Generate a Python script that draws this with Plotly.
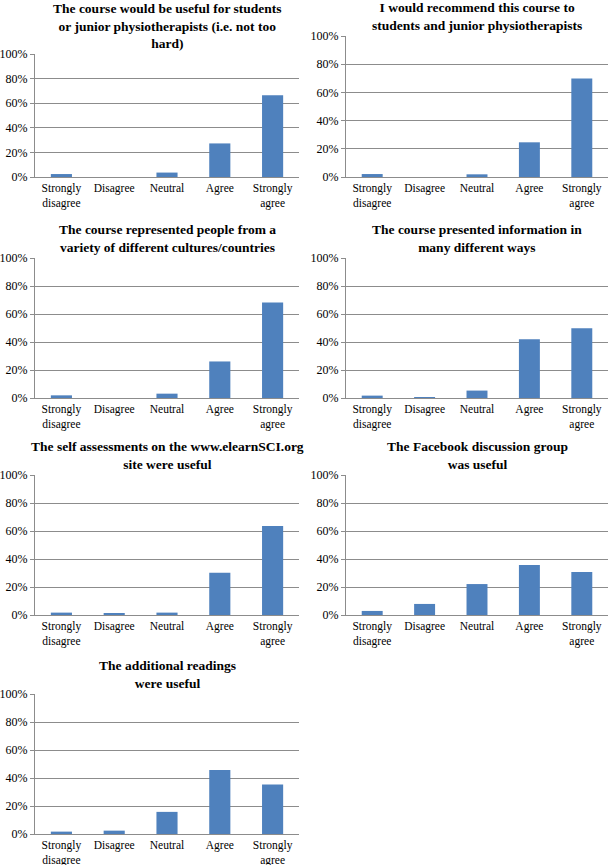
import plotly.graph_objects as go

W, H = 610, 865

categories = ["Strongly<br>disagree", "Disagree", "Neutral", "Agree", "Strongly<br>agree"]

titles = [
    "The course would be useful for students<br>or junior physiotherapists (i.e. not too<br>hard)",
    "I would recommend this course to<br>students and junior physiotherapists",
    "The course represented people from a<br>variety of different cultures/countries",
    "The course presented information in<br>many different ways",
    "The self assessments on the www.elearnSCI.org<br>site were useful",
    "The Facebook discussion group<br>was useful",
    "The additional readings<br>were useful",
]

useful_for_students = [2.4, 0, 3.6, 27.3, 66.4]
recommend = [2.1, 0, 1.9, 24.6, 69.9]
cultures = [1.9, 0, 3.1, 26.1, 68.2]
different_ways = [1.7, 0.7, 5.3, 41.9, 49.8]
self_assessments = [1.7, 1.0, 1.7, 30.2, 63.6]
facebook_group = [2.9, 7.9, 22.1, 35.7, 30.7]
additional_readings = [1.7, 2.4, 15.8, 45.7, 35.4]

series = [useful_for_students, recommend, cultures, different_ways,
          self_assessments, facebook_group, additional_readings]

# plot boxes in pixels: (left, right, top, bottom)
boxes = [
    (35, 299, 54, 177),
    (346, 608, 36, 177),
    (35, 299, 258, 398),
    (346, 608, 258, 398),
    (35, 299, 475, 615),
    (346, 608, 475, 615),
    (35, 299, 694, 834),
]

BAR = "#4F81BD"
GRID = "#8c8c8c"
FONT = '"Liberation Serif", "Times New Roman", Times, serif'

fig = go.Figure()
layout = {}
for i, (vals, box) in enumerate(zip(series, boxes)):
    n = "" if i == 0 else str(i + 1)
    l, r, t, b = box
    fig.add_trace(go.Bar(x=categories, y=vals, marker=dict(color=BAR, line=dict(width=0)),
                         xaxis="x" + n, yaxis="y" + n, showlegend=False))
    layout["xaxis" + n] = dict(
        domain=[l / W, r / W], anchor="y" + n, automargin=False,
        showgrid=False, showline=True, linecolor=GRID, linewidth=1,
        ticks="", ticklabelstandoff=0,
        tickfont=dict(size=11.5, color="black", family=FONT),
        fixedrange=True,
    )
    layout["yaxis" + n] = dict(
        domain=[1 - b / H, 1 - t / H], anchor="x" + n, automargin=False,
        range=[0, 100], dtick=20, ticksuffix="%",
        showgrid=True, gridcolor=GRID, gridwidth=1,
        showline=True, linecolor=GRID, linewidth=1,
        ticks="outside", ticklen=4, tickcolor=GRID,
        zeroline=False,
        tickfont=dict(size=12, color="black", family=FONT),
        fixedrange=True,
    )
    fig.add_annotation(
        text="<b>" + titles[i] + "</b>",
        xref=("x" + n) + " domain", yref=("y" + n) + " domain",
        x=0.5, y=1, xanchor="center", yanchor="bottom", yshift=1,
        showarrow=False, align="center",
        font=dict(size=13.5, color="black", family=FONT),
    )

fig.update_layout(
    **layout,
    width=W, height=H,
    margin=dict(l=0, r=0, t=0, b=0),
    paper_bgcolor="white", plot_bgcolor="white",
    bargap=0.6,
    font=dict(family=FONT, color="black"),
)

fig.write_html("out.html", config={"displayModeBar": False},
               post_script="document.body.style.margin='0';")
